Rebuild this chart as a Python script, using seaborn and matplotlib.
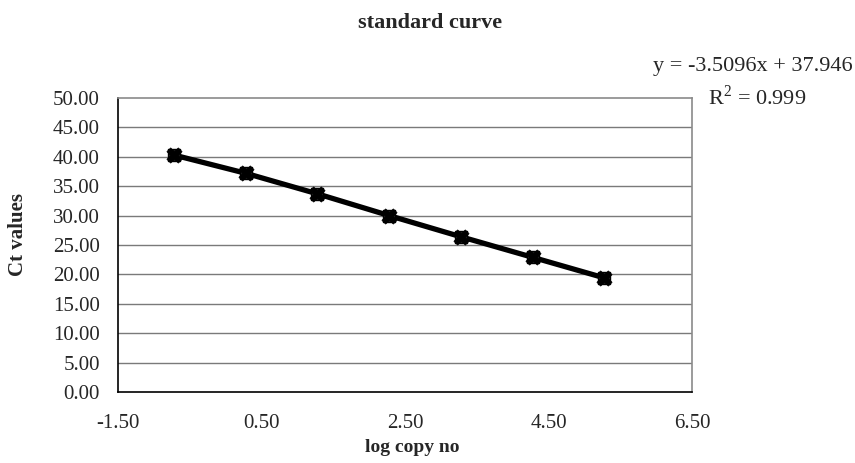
import matplotlib
matplotlib.use("Agg")
import matplotlib.pyplot as plt
import seaborn as sns
import pandas as pd

log_copy_no = [-0.72, 0.28, 1.28, 2.28, 3.28, 4.28, 5.28]
ct_values = [40.3, 37.2, 33.7, 30.0, 26.4, 22.9, 19.4]
x_ticks = [-1.5, 0.5, 2.5, 4.5, 6.5]
y_ticks = [0, 5, 10, 15, 20, 25, 30, 35, 40, 45, 50]
title = "standard curve"
x_label = "log copy no"
y_label = "Ct values"
equation = "y = -3.5096x + 37.946"
r2_text = "R$^2$ = 0.999"

df = pd.DataFrame({"x": log_copy_no, "y": ct_values})

sns.set_style("white")
plt.rcParams["font.family"] = ["Liberation Serif", "DejaVu Serif"]
plt.rcParams["mathtext.fontset"] = "custom"
plt.rcParams["mathtext.rm"] = "Liberation Serif"

fig = plt.figure(figsize=(8.55, 4.63), dpi=100)
ax = fig.add_axes([118 / 855, 1 - 392 / 463, (692 - 118) / 855, (392 - 98) / 463])

for yv in y_ticks[1:-1]:
    ax.axhline(yv, color="#7a7a7a", lw=1.0, zorder=0)

sns.lineplot(data=df, x="x", y="y", ax=ax, color="black", lw=3.8, sort=False, zorder=3)
sns.scatterplot(data=df, x="x", y="y", ax=ax, color="#222222", marker="s", s=75,
                edgecolor="black", linewidth=1, zorder=4)
sns.scatterplot(data=df, x="x", y="y", ax=ax, color="black", marker="X", s=120,
                edgecolor="black", linewidth=0.5, zorder=5)

ax.set_xlim(-1.5, 6.5)
ax.set_ylim(0, 50)
ax.set_xticks(x_ticks)
ax.set_xticklabels([f"{v:.2f}" for v in x_ticks], fontsize=15)
ax.set_yticks(y_ticks)
ax.set_yticklabels([f"{v:.2f}" for v in y_ticks], fontsize=15)
ax.tick_params(axis="y", direction="out", length=4, width=1, color="black", pad=9)
ax.tick_params(axis="x", direction="out", length=4, width=1, color="black", pad=12)

for side in ["top", "right"]:
    ax.spines[side].set_color("#8a8a8a")
    ax.spines[side].set_linestyle((0, (1, 1)))
    ax.spines[side].set_linewidth(1.2)
for side in ["left", "bottom"]:
    ax.spines[side].set_color("black")
    ax.spines[side].set_linewidth(1.2)

ax.set_xlabel(x_label, fontsize=14, fontweight="bold")
ax.xaxis.set_label_coords((412 - 118) / 574, -(447 - 392) / 294)
ax.xaxis.label.set_va("center")
ax.set_ylabel(y_label, fontsize=15, fontweight="bold")
ax.yaxis.set_label_coords(-(118 - 18) / 574, (392 - 235) / 294)
ax.yaxis.label.set_va("center")

fig.text(430 / 855, 1 - 23 / 463, title, ha="center", va="center", fontsize=16, fontweight="bold")
fig.text(853 / 855, 1 - 66 / 463, equation, ha="right", va="center", fontsize=16)
fig.text(757 / 855, 1 - 97 / 463, r2_text, ha="center", va="center", fontsize=16)

fig.savefig("out.png", dpi=100)
